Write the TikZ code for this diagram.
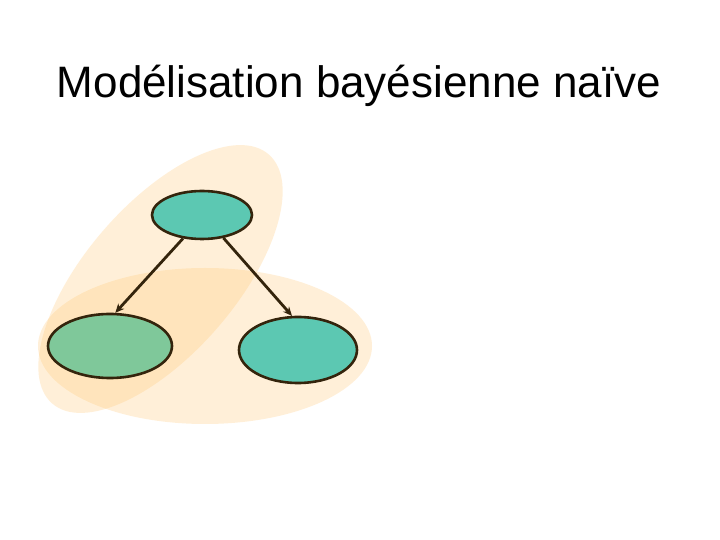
\documentclass[tikz,border=0pt]{standalone}
\usepackage{fontspec}
\setmainfont{Liberation Sans}
\usetikzlibrary{shapes.geometric,arrows.meta}
\definecolor{blob}{RGB}{255,199,113}
\definecolor{teal}{RGB}{92,200,178}
\definecolor{leafgreen}{RGB}{127,200,154}
\definecolor{edge}{RGB}{52,36,12}
\tikzset{
  var/.style={ellipse, draw=edge, line width=2.6pt, inner sep=0pt},
  link/.style={draw=edge, line width=2.8pt, -{Stealth[length=9pt,width=8pt]}},
  blobfill/.style={fill=blob, fill opacity=0.27}
}
\begin{document}
\begin{tikzpicture}[x=1pt,y=1pt]
\useasboundingbox (0,0) rectangle (720,540);
\fill[white] (0,0) rectangle (720,540);
\node[anchor=base, font=\fontsize{44}{50}\selectfont] (title) at (359,442) {Modélisation bayésienne naïve};
\fill[blobfill] (205,194) ellipse [x radius=167, y radius=78];
\fill[blobfill, rotate around={49:(160.5,261)}] (160.5,261) ellipse [x radius=165, y radius=75];
\node[var, fill=teal, minimum width=100pt, minimum height=48pt] (c) at (202,325) {};
\node[var, fill=leafgreen, minimum width=124pt, minimum height=64pt] (l) at (110,194) {};
\node[var, fill=teal, minimum width=118pt, minimum height=66pt] (r) at (298,190) {};
\draw[link] (c.231) -- (l.81);
\draw[link] (c.313) -- (r.100);
\end{tikzpicture}
\end{document}
